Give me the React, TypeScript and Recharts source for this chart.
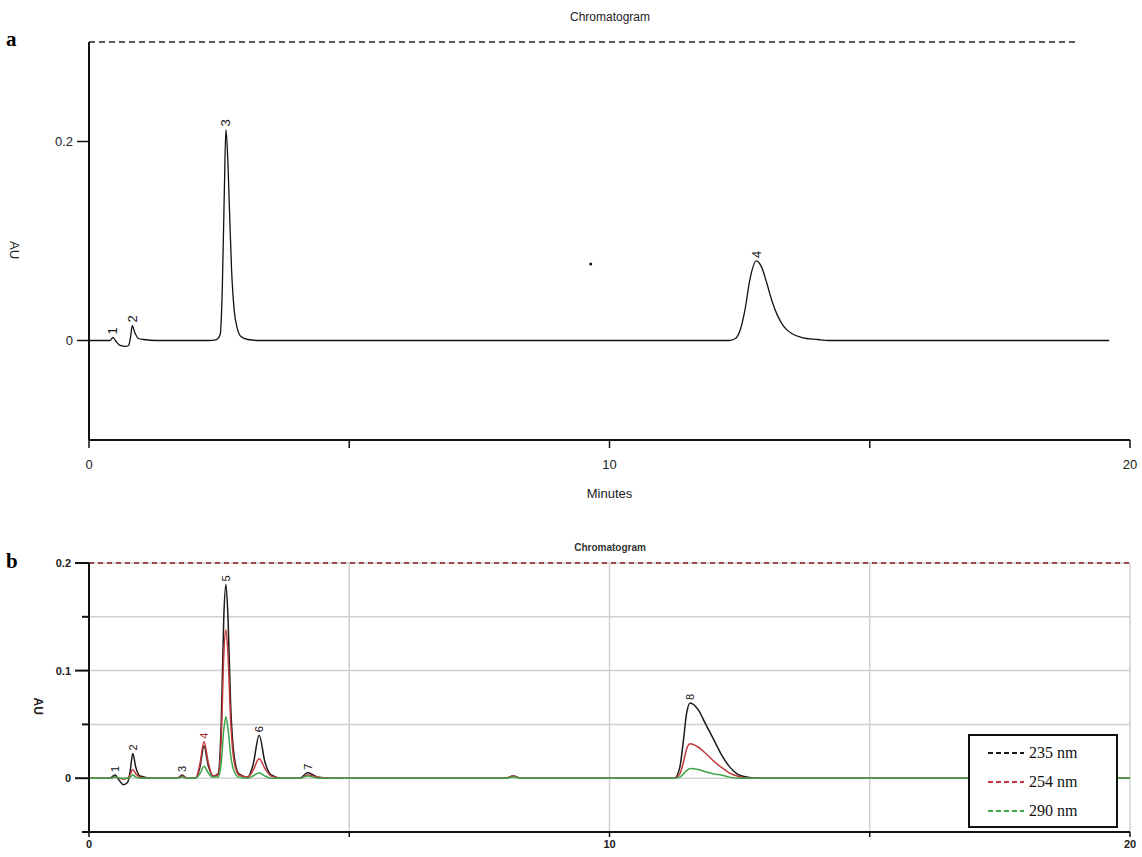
import { ComposedChart, Line, XAxis, YAxis, CartesianGrid, ReferenceLine, ReferenceDot, Legend } from 'recharts';

// panel a: single trace
const timesA = [0, 0.4, 0.46, 0.52, 0.6, 0.7, 0.76, 0.8, 0.83, 0.88, 0.95, 1.05, 1.3, 2.3, 2.45, 2.52, 2.56, 2.6, 2.63, 2.66, 2.7, 2.74, 2.79, 2.85, 2.92, 3.05, 3.3, 9.4, 12.3, 12.42, 12.52, 12.6, 12.7, 12.82, 12.92, 13.02, 13.12, 13.22, 13.35, 13.5, 13.7, 14.0, 14.2, 19.6];
const auA = [0, 0, 0.003, -0.001, -0.005, -0.006, -0.005, 0.004, 0.015, 0.008, 0.002, 0.001, 0, 0, 0.001, 0.006, 0.05, 0.15, 0.212, 0.19, 0.13, 0.07, 0.03, 0.012, 0.004, 0.001, 0, 0, 0, 0.002, 0.012, 0.03, 0.062, 0.08, 0.074, 0.058, 0.04, 0.026, 0.014, 0.007, 0.003, 0.001, 0, 0];
const peaksA = [
  { name: '1', t: 0.46, v: 0.003 },
  { name: '2', t: 0.83, v: 0.015 },
  { name: '3', t: 2.63, v: 0.212 },
  { name: '4', t: 12.82, v: 0.08 },
];

// panel b: three wavelengths
const timesB = [0, 0.4, 0.5, 0.58, 0.66, 0.74, 0.79, 0.84, 0.9, 0.98, 1.2, 1.7, 1.79, 1.88, 2.05, 2.13, 2.21, 2.29, 2.38, 2.48, 2.54, 2.59, 2.63, 2.67, 2.72, 2.79, 2.88, 3.05, 3.15, 3.27, 3.38, 3.5, 3.7, 4.05, 4.2, 4.4, 4.7, 8.0, 8.15, 8.3, 11.25, 11.35, 11.42, 11.48, 11.55, 11.7, 11.85, 12.0, 12.15, 12.3, 12.45, 12.65, 12.9, 20];
const au235 = [0, 0, 0.003, -0.002, -0.006, -0.004, 0.006, 0.023, 0.01, 0.002, 0, 0, 0.003, 0, 0, 0.01, 0.03, 0.012, 0.002, 0.004, 0.05, 0.15, 0.18, 0.15, 0.07, 0.02, 0.004, 0.001, 0.012, 0.04, 0.015, 0.003, 0, 0, 0.005, 0.001, 0, 0, 0.002, 0, 0, 0.01, 0.035, 0.06, 0.07, 0.064, 0.05, 0.036, 0.022, 0.011, 0.004, 0.001, 0, 0];
const au254 = [0, 0, 0.001, 0, -0.001, 0, 0.003, 0.008, 0.004, 0.001, 0, 0, 0.002, 0, 0, 0.013, 0.034, 0.015, 0.002, 0.003, 0.035, 0.115, 0.138, 0.115, 0.055, 0.015, 0.003, 0.001, 0.007, 0.018, 0.009, 0.002, 0, 0, 0.003, 0.001, 0, 0, 0.002, 0, 0, 0.004, 0.015, 0.027, 0.032, 0.029, 0.023, 0.016, 0.01, 0.005, 0.002, 0, 0, 0];
const au290 = [0, 0, 0.001, 0, 0, 0, 0.001, 0.003, 0.001, 0, 0, 0, 0.001, 0, 0, 0.004, 0.011, 0.005, 0.001, 0.001, 0.014, 0.045, 0.057, 0.046, 0.022, 0.006, 0.001, 0, 0.002, 0.005, 0.002, 0, 0, 0, 0.002, 0, 0, 0, 0.001, 0, 0, 0.001, 0.004, 0.007, 0.009, 0.008, 0.006, 0.004, 0.003, 0.001, 0, 0, 0, 0];
const peaksB = [
  { name: '1', t: 0.5, v: 0.003, color: '#111' },
  { name: '2', t: 0.84, v: 0.023, color: '#111' },
  { name: '3', t: 1.79, v: 0.003, color: '#111' },
  { name: '4', t: 2.21, v: 0.034, color: '#a3302c' },
  { name: '5', t: 2.63, v: 0.18, color: '#111' },
  { name: '6', t: 3.27, v: 0.04, color: '#111' },
  { name: '7', t: 4.2, v: 0.005, color: '#111' },
  { name: '8', t: 11.55, v: 0.07, color: '#111' },
];
const seriesB = [
  { key: 'w235', label: '235 nm', color: '#1a1a1a' },
  { key: 'w254', label: '254 nm', color: '#c0393b' },
  { key: 'w290', label: '290 nm', color: '#3da64a' },
];

const dataA = timesA.map((t, i) => ({ t, au: auA[i] }));
const dataB = timesB.map((t, i) => ({ t, w235: au235[i], w254: au254[i], w290: au290[i] }));

const SANS = '"Liberation Sans", Arial, sans-serif';
const SERIF = '"Liberation Serif", "Times New Roman", serif';

function peakLabel(name: string, size: number, color: string) {
  return (p: any) => (
    <text
      x={p.cx + 3}
      y={p.cy}
      transform={`rotate(-90, ${p.cx}, ${p.cy})`}
      textAnchor="start"
      dominantBaseline="central"
      fontFamily={SANS}
      fontSize={size}
      fill={color}
    >
      {name}
    </text>
  );
}

function yTickB(props: any) {
  const { x, y, payload } = props;
  const v = payload.value;
  const major = Math.abs(v * 10 - Math.round(v * 10)) < 1e-6 && v >= 0;
  const len = major ? 14 : 7;
  return (
    <g>
      <line x1={x - len} x2={x} y1={y} y2={y} stroke="#111" strokeWidth={2} />
      {major && (
        <text x={x - len - 4} y={y} textAnchor="end" dominantBaseline="central" fontFamily={SANS} fontWeight="bold" fontSize={11} fill="#222">
          {String(v)}
        </text>
      )}
    </g>
  );
}

function LegendBox() {
  return (
    <div style={{ width: 146, height: 90, border: '2px solid #111', background: '#fff', boxSizing: 'content-box' }}>
      {seriesB.map((s, i) => (
        <div key={s.key} style={{ display: 'flex', alignItems: 'center', height: 29, marginTop: i === 0 ? 2 : 0 }}>
          <svg width={56} height={10}>
            <line x1={18} x2={54} y1={5} y2={5} stroke={s.color} strokeWidth={2} strokeDasharray="5 3" />
          </svg>
          <span style={{ fontFamily: SERIF, fontSize: 16, color: '#111', marginLeft: 3 }}>{s.label}</span>
        </div>
      ))}
    </div>
  );
}

export default function App() {
  return (
    <div style={{ position: 'absolute', left: 0, top: 0, width: 1142, height: 857, background: '#fff' }}>
      <div style={{ position: 'absolute', left: 6, top: 27, fontFamily: SERIF, fontWeight: 'bold', fontSize: 21 }}>a</div>
      <div style={{ position: 'absolute', left: 6, top: 549, fontFamily: SERIF, fontWeight: 'bold', fontSize: 21 }}>b</div>
      <div style={{ position: 'absolute', left: 0, width: 1220, top: 10, textAlign: 'center', fontFamily: SANS, fontSize: 12, color: '#222' }}>Chromatogram</div>
      <div style={{ position: 'absolute', left: 0, width: 1220, top: 542, textAlign: 'center', fontFamily: SANS, fontSize: 10, fontWeight: 'bold', color: '#333' }}>Chromatogram</div>

      <div style={{ position: 'absolute', left: 0, top: 0 }}>
        <ComposedChart width={1142} height={520} data={dataA} margin={{ top: 42, right: 12, bottom: 20, left: 0 }}>
          <XAxis
            dataKey="t"
            type="number"
            domain={[0, 20]}
            ticks={[0, 5, 10, 15, 20]}
            tickFormatter={(v: number) => (v % 10 === 0 ? String(v) : '')}
            axisLine={{ stroke: '#111', strokeWidth: 2 }}
            tickLine={{ stroke: '#111', strokeWidth: 1.5 }}
            tickSize={8}
            tickMargin={12}
            height={60}
            tick={{ fontFamily: SANS, fontSize: 13, fill: '#222' }}
            label={{ value: 'Minutes', position: 'insideBottom', offset: 2, style: { fontFamily: SANS, fontSize: 13, fill: '#222' } }}
          />
          <YAxis
            type="number"
            domain={[-0.1, 0.3]}
            ticks={[0, 0.2]}
            allowDataOverflow
            width={89}
            axisLine={{ stroke: '#111', strokeWidth: 2 }}
            tickLine={{ stroke: '#111', strokeWidth: 1.5 }}
            tickSize={12}
            tickMargin={4}
            tick={{ fontFamily: SANS, fontSize: 13, fill: '#222' }}
            label={{ value: 'AU', angle: 90, position: 'insideLeft', offset: 15, style: { fontFamily: SANS, fontSize: 13, fill: '#222' } }}
          />
          <ReferenceLine
            segment={[{ x: 0, y: 0.3 }, { x: 19, y: 0.3 }]}
            stroke="#222"
            strokeWidth={1.5}
            strokeDasharray="6 4"
          />
          <Line dataKey="au" type="monotone" stroke="#111" strokeWidth={1.3} dot={false} isAnimationActive={false} />
          <ReferenceDot x={9.64} y={0.077} r={1.5} fill="#111" stroke="none" />
          {peaksA.map((p) => (
            <ReferenceDot key={p.name} x={p.t} y={p.v} r={0} shape={peakLabel(p.name, 13, '#111')} />
          ))}
        </ComposedChart>
      </div>

      <div style={{ position: 'absolute', left: 0, top: 520 }}>
        <ComposedChart width={1142} height={337} data={dataB} margin={{ top: 43, right: 12, bottom: 0, left: 0 }}>
          <CartesianGrid stroke="#cfcfcf" strokeWidth={1.5} />
          <XAxis
            dataKey="t"
            type="number"
            domain={[0, 20]}
            ticks={[0, 5, 10, 15, 20]}
            tickFormatter={(v: number) => (v % 10 === 0 ? String(v) : '')}
            axisLine={{ stroke: '#111', strokeWidth: 2 }}
            tickLine={{ stroke: '#111', strokeWidth: 1.5 }}
            tickSize={5}
            tickMargin={3}
            height={25}
            tick={{ fontFamily: SANS, fontSize: 11, fontWeight: 'bold', fill: '#222' }}
          />
          <YAxis
            type="number"
            domain={[-0.05, 0.2]}
            ticks={[-0.05, 0, 0.05, 0.1, 0.15, 0.2]}
            allowDataOverflow
            width={89}
            axisLine={{ stroke: '#111', strokeWidth: 2 }}
            tickLine={false}
            tickSize={0}
            tickMargin={0}
            tick={yTickB}
            label={{ value: 'AU', angle: 90, position: 'insideLeft', offset: 38, style: { fontFamily: SANS, fontSize: 12, fontWeight: 'bold', fill: '#222' } }}
          />
          <ReferenceLine y={0.2} stroke="#8b1a1a" strokeWidth={1.5} strokeDasharray="5 4" />
          {seriesB.map((s) => (
            <Line key={s.key} dataKey={s.key} name={s.label} type="monotone" stroke={s.color} strokeWidth={1.5} dot={false} isAnimationActive={false} />
          ))}
          {peaksB.map((p) => (
            <ReferenceDot key={p.name} x={p.t} y={p.v} r={0} shape={peakLabel(p.name, 11, p.color)} />
          ))}
          <Legend
            layout="vertical"
            align="center"
            verticalAlign="middle"
            content={() => <LegendBox />}
            wrapperStyle={{ left: 968, top: 214, width: 150, height: 94 }}
          />
        </ComposedChart>
      </div>
    </div>
  );
}
